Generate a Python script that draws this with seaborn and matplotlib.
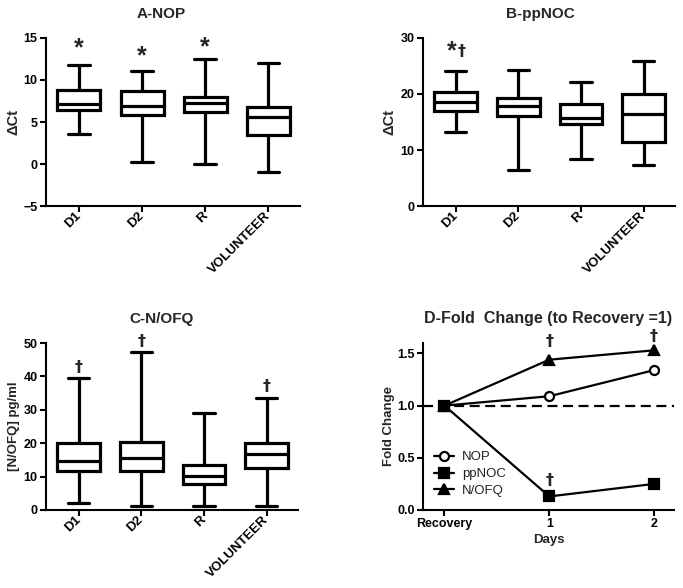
import numpy as np
import pandas as pd
import matplotlib
matplotlib.use("Agg")
import matplotlib.pyplot as plt
import seaborn as sns

# ---------------- data ----------------
categories = ["D1", "D2", "R", "VOLUNTEER"]

# A - NOP (ΔCt): min, Q1, median, Q3, max
nop_min = [3.6, 0.2, 0.0, -0.9]
nop_q1 = [6.4, 5.8, 6.2, 3.4]
nop_med = [7.2, 6.9, 7.3, 5.6]
nop_q3 = [8.8, 8.7, 8.0, 6.8]
nop_max = [11.8, 11.1, 12.5, 12.0]

# B - ppNOC (ΔCt)
ppnoc_min = [13.3, 6.4, 8.4, 7.3]
ppnoc_q1 = [17.0, 16.1, 14.6, 11.4]
ppnoc_med = [18.6, 17.8, 15.7, 16.4]
ppnoc_q3 = [20.3, 19.3, 18.3, 20.0]
ppnoc_max = [24.1, 24.3, 22.2, 25.9]

# C - N/OFQ (pg/ml)
nofq_min = [2.2, 1.2, 1.2, 1.2]
nofq_q1 = [11.7, 11.7, 7.7, 12.5]
nofq_med = [14.6, 15.7, 10.2, 16.8]
nofq_q3 = [20.2, 20.5, 13.5, 20.0]
nofq_max = [39.5, 47.2, 29.0, 33.4]

# D - fold change
day_labels = ["Recovery", "1", "2"]
day_pos = [0, 1, 2]
fold_nop = [1.0, 1.09, 1.34]
fold_ppnoc = [1.0, 0.13, 0.25]
fold_nofq = [1.0, 1.44, 1.53]

# significance marks (category index / day, y, text)
marks_a = [(0, 13.8, "*"), (1, 12.8, "*"), (2, 13.9, "*")]
marks_b = [(0, 27.6, "*†")]
marks_c = [(0, 42.8, "†"), (1, 50.5, "†"), (3, 37.0, "†")]
marks_d = [(1, 1.61, "†"), (2, 1.66, "†"), (1, 0.28, "†")]

# ---------------- style ----------------
sns.set_style("ticks")
plt.rcParams["font.family"] = ["Liberation Sans", "DejaVu Sans"]
plt.rcParams["font.weight"] = "bold"
plt.rcParams["axes.labelweight"] = "bold"
plt.rcParams["axes.titleweight"] = "bold"

W, H = 683, 588
fig = plt.figure(figsize=(W / 100, H / 100), dpi=100)


def px_axes(left, right, top, bottom):
    return fig.add_axes([left / W, 1 - bottom / H, (right - left) / W, (bottom - top) / H])


axA = px_axes(46, 300, 38, 206)
axB = px_axes(423, 675, 38, 206)
axC = px_axes(46, 298, 343, 510)
axD = px_axes(423, 674, 343, 510)

LW_BOX = 2.3
LW_SPINE = 1.5
DAGGER_FONT = ["DejaVu Sans"]


def long_frame(mins, q1s, meds, q3s, maxs):
    rows = []
    for c, a, b, m, d, e in zip(categories, mins, q1s, meds, q3s, maxs):
        for v in (a, b, m, d, e):
            rows.append({"group": c, "value": v})
    return pd.DataFrame(rows)


def style_axis(ax):
    for s in ("top", "right"):
        ax.spines[s].set_visible(False)
    for s in ("left", "bottom"):
        ax.spines[s].set_linewidth(LW_SPINE)
        ax.spines[s].set_color("black")
    ax.tick_params(axis="both", width=LW_SPINE, length=4.5, color="black",
                   labelsize=9, pad=1.5, labelcolor="black")


def dagger(ax, x, y):
    ax.text(x, y, "†", ha="center", va="center", fontsize=11.5,
            fontweight="bold", family=DAGGER_FONT)


def box_panel(ax, df, title, title_x, ylabel, ylab_size, ylim, yticks, marks, ylab_x):
    sns.boxplot(data=df, x="group", y="value", order=categories, ax=ax,
                whis=(0, 100), width=0.68, color="white", linecolor="black",
                linewidth=LW_BOX, showfliers=False)
    ax.set_xlim(-0.52, 3.5)
    ax.set_ylim(*ylim)
    ax.set_yticks(yticks)
    ax.set_xlabel("")
    ax.set_ylabel(ylabel, fontsize=ylab_size)
    ax.yaxis.set_label_coords(ylab_x, 0.5)
    style_axis(ax)
    ax.set_xticks(range(len(categories)))
    ax.set_xticklabels(categories, rotation=45, ha="right", va="center",
                       rotation_mode="anchor", fontsize=9.5)
    ax.set_title(title, fontsize=11, x=title_x, pad=14.5)
    for i, y, t in marks:
        if t == "*":
            ax.text(i, y, t, ha="center", va="center", fontsize=18, fontweight="bold")
        elif t == "*†":
            ax.text(i - 0.06, y, "*", ha="center", va="center", fontsize=18, fontweight="bold")
            dagger(ax, i + 0.1, y)
        else:
            dagger(ax, i, y)


box_panel(axA, long_frame(nop_min, nop_q1, nop_med, nop_q3, nop_max),
          "A-NOP", 0.453, "ΔCt", 10.5, (-5, 15), [-5, 0, 5, 10, 15], marks_a, -0.10)
box_panel(axB, long_frame(ppnoc_min, ppnoc_q1, ppnoc_med, ppnoc_q3, ppnoc_max),
          "B-ppNOC", 0.465, "ΔCt", 10.5, (0, 30), [0, 10, 20, 30], marks_b, -0.105)
box_panel(axC, long_frame(nofq_min, nofq_q1, nofq_med, nofq_q3, nofq_max),
          "C-N/OFQ", 0.46, "[N/OFQ] pg/ml", 9.5, (0, 50), [0, 10, 20, 30, 40, 50], marks_c, -0.105)

# ---------------- panel D ----------------
series = [("NOP", fold_nop, "o", "white"),
          ("ppNOC", fold_ppnoc, "s", "black"),
          ("N/OFQ", fold_nofq, "^", "black")]
axD.axhline(1.0, color="black", lw=1.6, ls=(0, (4.5, 2.5)), zorder=1)
for name, vals, mk, fc in series:
    sns.lineplot(x=day_pos, y=vals, ax=axD, color="black", lw=1.6, marker=mk,
                 markersize=6.5, markerfacecolor=fc, markeredgecolor="black",
                 markeredgewidth=1.6, label=name, zorder=3)
axD.set_xlim(-0.205, 2.19)
axD.set_ylim(0, 1.6)
axD.set_yticks([0.0, 0.5, 1.0, 1.5])
axD.set_yticklabels(["0.0", "0.5", "1.0", "1.5"])
axD.set_xticks(day_pos)
axD.set_xticklabels(day_labels)
style_axis(axD)
axD.tick_params(axis="x", labelsize=9)
axD.set_xlabel("Days", fontsize=9.5)
axD.xaxis.set_label_coords(0.5, -0.145)
axD.set_ylabel("Fold Change", fontsize=9.5)
axD.yaxis.set_label_coords(-0.112, 0.5)
axD.set_title("D-Fold  Change (to Recovery =1)", fontsize=11.5, x=0.5, pad=14.5)
for x, y, t in marks_d:
    dagger(axD, x, y)
leg = axD.legend(loc="center left", bbox_to_anchor=(0.045, 0.215), frameon=False,
                 borderaxespad=0, borderpad=0, handlelength=1.5, handletextpad=0.6,
                 labelspacing=0.35, prop={"size": 9.5, "weight": "normal"})
for t in leg.get_texts():
    t.set_color("#222222")

fig.savefig("out.png", dpi=100, facecolor="white")
